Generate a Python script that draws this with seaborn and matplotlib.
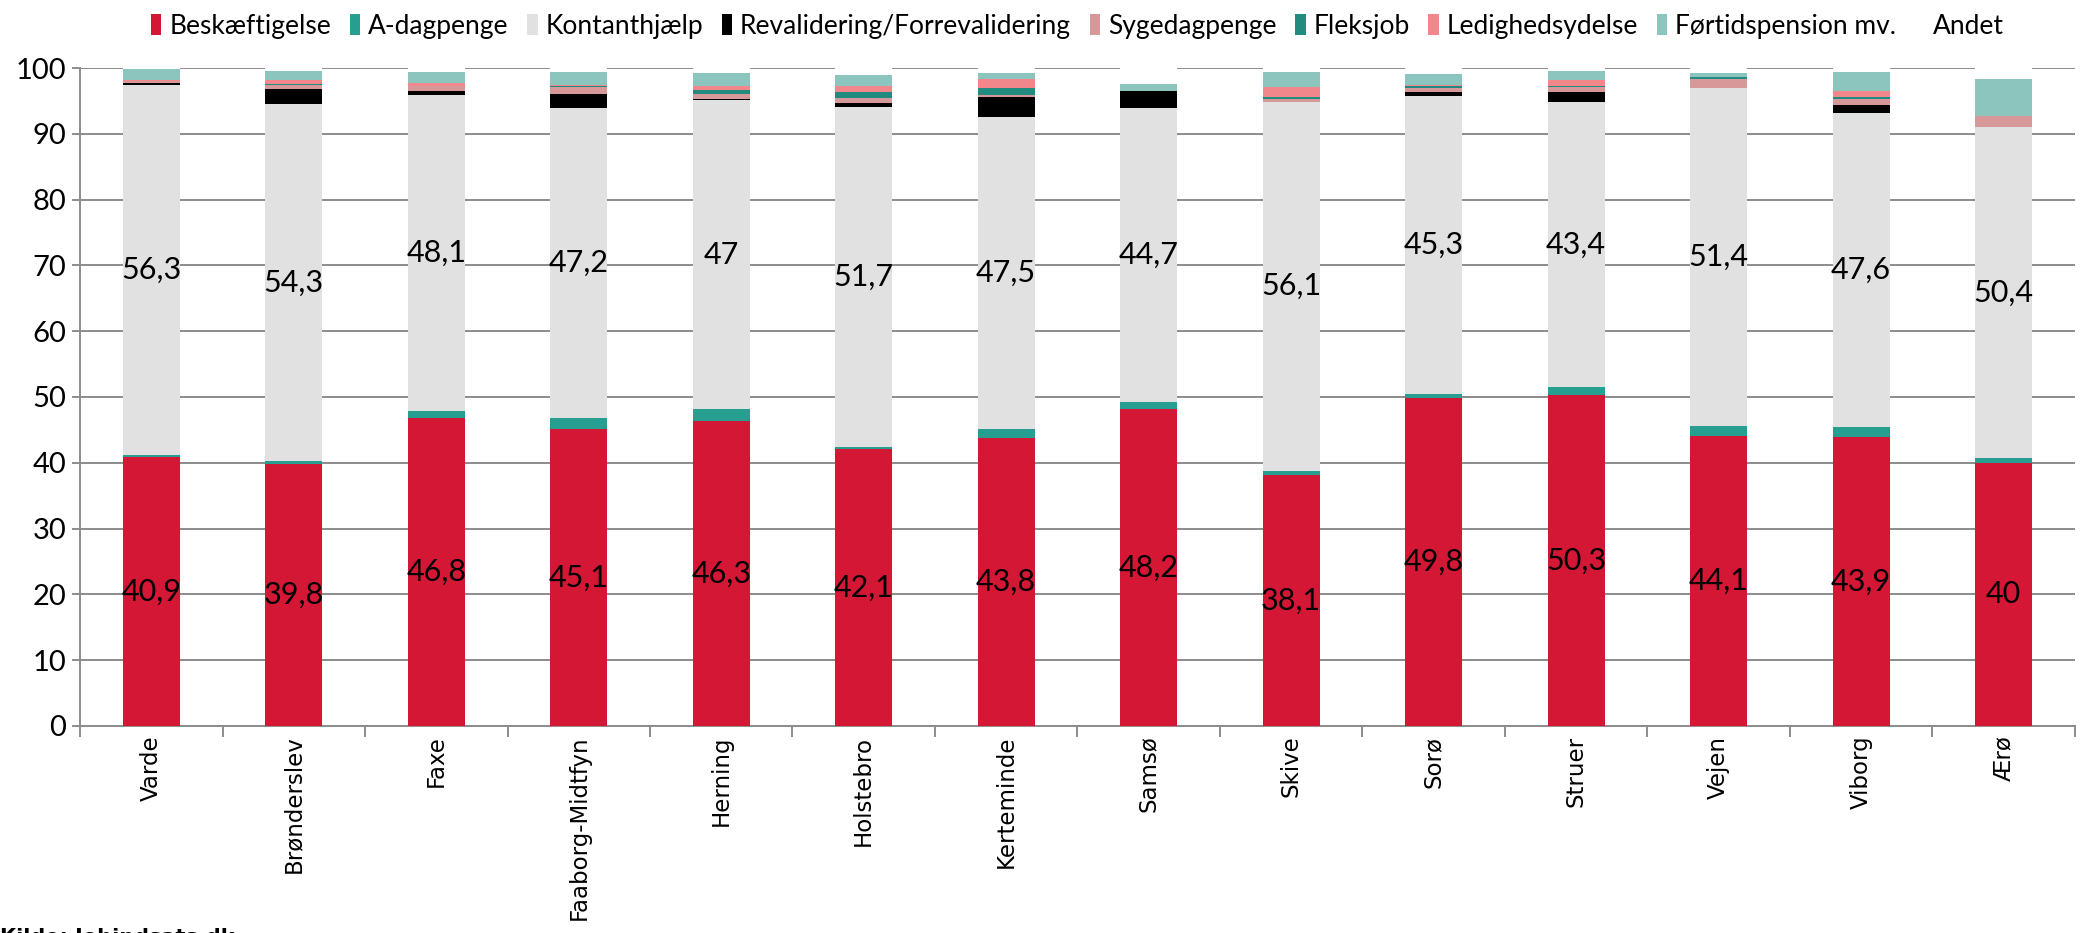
import numpy as np
import pandas as pd
import seaborn as sns
import matplotlib.pyplot as plt
from matplotlib.patches import Patch


kommuner = ["Varde", "Brønderslev", "Faxe", "Faaborg-Midtfyn", "Herning", "Holstebro",
            "Kerteminde", "Samsø", "Skive", "Sorø", "Struer", "Vejen", "Viborg", "Ærø"]

beskaeftigelse = [40.9, 39.8, 46.8, 45.1, 46.3, 42.1, 43.8, 48.2, 38.1, 49.8, 50.3, 44.1, 43.9, 40.0]
a_dagpenge = [0.3, 0.4, 1.0, 1.7, 1.8, 0.3, 1.3, 1.1, 0.7, 0.7, 1.2, 1.5, 1.6, 0.7]
kontanthjaelp = [56.3, 54.3, 48.1, 47.2, 47.0, 51.7, 47.5, 44.7, 56.1, 45.3, 43.4, 51.4, 47.6, 50.4]
revalidering = [0.3, 2.3, 0.6, 2.1, 0.2, 0.65, 3.0, 2.5, 0.0, 0.55, 1.5, 0.0, 1.3, 0.0]
sygedagpenge = [0.2, 0.7, 0.75, 1.0, 0.75, 0.75, 0.25, 0.0, 0.4, 0.65, 0.75, 1.35, 0.9, 1.6]
fleksjob = [0.05, 0.1, 0.0, 0.2, 0.55, 0.9, 1.05, 0.0, 0.3, 0.3, 0.15, 0.25, 0.3, 0.0]
ledighedsydelse = [0.1, 0.6, 0.45, 0.2, 0.7, 0.9, 1.5, 0.0, 1.5, 0.2, 0.95, 0.1, 0.95, 0.0]
foertidspension = [1.7, 1.4, 1.7, 1.9, 1.9, 1.7, 0.9, 1.05, 2.3, 1.6, 1.25, 0.55, 2.85, 5.6]
andet = [0.15, 0.4, 0.6, 0.6, 0.8, 1.0, 0.7, 2.45, 0.6, 0.9, 0.5, 0.75, 0.6, 1.7]

serier = ["Beskæftigelse", "A-dagpenge", "Kontanthjælp", "Revalidering/Forrevalidering",
          "Sygedagpenge", "Fleksjob", "Ledighedsydelse", "Førtidspension mv.", "Andet"]
farver = ["#D31735", "#269E90", "#E1E1E1", "#000000", "#D7989A",
          "#228B7F", "#F1878A", "#8CC5BD", "#FFFFFF"]

df = pd.DataFrame({"kommune": kommuner,
                   "Beskæftigelse": beskaeftigelse,
                   "A-dagpenge": a_dagpenge,
                   "Kontanthjælp": kontanthjaelp,
                   "Revalidering/Forrevalidering": revalidering,
                   "Sygedagpenge": sygedagpenge,
                   "Fleksjob": fleksjob,
                   "Ledighedsydelse": ledighedsydelse,
                   "Førtidspension mv.": foertidspension,
                   "Andet": andet})

sns.set_style("white")
narrow = ["Lato", "DejaVu Sans"]
plt.rcParams["font.family"] = narrow
plt.rcParams["text.color"] = "black"
plt.rcParams["xtick.labelcolor"] = "black"
plt.rcParams["ytick.labelcolor"] = "black"

fig = plt.figure(figsize=(20.8, 9.33), dpi=100)
ax = fig.add_axes([0.0385, 0.222, 0.959, 0.705])

bund = np.zeros(len(kommuner))
for navn, farve in zip(serier, farver):
    sns.barplot(x="kommune", y=navn, data=df, order=kommuner, color=farve,
                width=0.4, bottom=bund, linewidth=0, saturation=1, ax=ax, zorder=3)
    bund = bund + df[navn].values

# værdier i søjlerne
def fmt(v):
    return f"{v:g}".replace(".", ",")

for i in range(len(kommuner)):
    b = beskaeftigelse[i]
    ax.text(i, b / 2, fmt(b), ha="center", va="center", fontsize=22, zorder=5)
    start = b + a_dagpenge[i]
    k = kontanthjaelp[i]
    ax.text(i, start + k / 2, fmt(k), ha="center", va="center", fontsize=22, zorder=5)

ax.set_ylim(0, 100)
ax.set_xlim(-0.5, len(kommuner) - 0.5)
ax.set_yticks(range(0, 101, 10))
ax.yaxis.grid(True, color="#8C8C8C", linewidth=1.4)
ax.set_axisbelow(True)
ax.set_xlabel("")
ax.set_ylabel("")

for s in ["top", "right"]:
    ax.spines[s].set_visible(False)
for s in ["left", "bottom"]:
    ax.spines[s].set_color("#8C8C8C")
    ax.spines[s].set_linewidth(1.4)

ax.tick_params(axis="y", labelsize=21, length=6, color="#8C8C8C", width=1.4, left=True, pad=4)
ax.set_xticks(range(len(kommuner)))
ax.set_xticklabels(kommuner, rotation=90, fontsize=16.5, family="DejaVu Sans")
ax.tick_params(axis="x", length=0, pad=7)
ax.set_xticks(np.arange(-0.5, len(kommuner), 1), minor=True)
ax.tick_params(axis="x", which="minor", length=8, color="#8C8C8C", width=1.4, bottom=True)

handles = [Patch(facecolor=f, edgecolor="none") for f in farver]
fig.legend(handles, serier, loc="center", bbox_to_anchor=(0.518, 0.972), ncol=9,
           frameon=False, fontsize=19, handlelength=0.4, handleheight=0.9,
           handletextpad=0.3, columnspacing=0.7)

fig.text(0.0, -0.005, "Kilde: Jobindsats.dk", fontsize=15, fontweight="bold",
         family="DejaVu Sans", va="center", ha="left")

fig.savefig("out.png", dpi=100)
